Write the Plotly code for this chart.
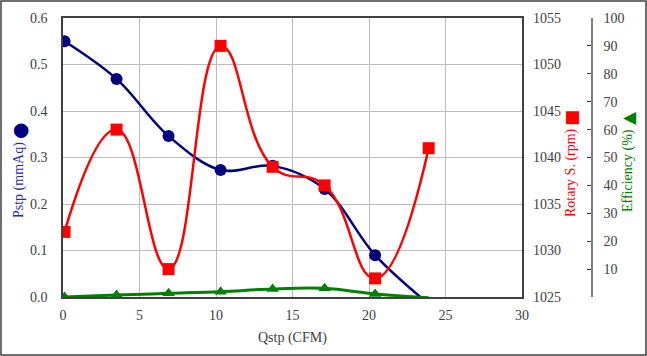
import plotly.graph_objects as go

# ---- data ----
qstp = [0.1, 3.5, 6.9, 10.3, 13.7, 17.1, 20.4, 23.9]
pstp = [0.55, 0.469, 0.346, 0.273, 0.282, 0.232, 0.090, -0.015]
rpm = [1032, 1043, 1028, 1052, 1039, 1037, 1027, 1041]
eff = [0.0, 0.7, 1.3, 1.9, 2.9, 3.1, 1.1, -0.3]

x_ticks = [0, 5, 10, 15, 20, 25, 30]
y1_ticks = [0.0, 0.1, 0.2, 0.3, 0.4, 0.5, 0.6]
y2_ticks = [1025, 1030, 1035, 1040, 1045, 1050, 1055]
y3_ticks = [0, 10, 20, 30, 40, 50, 60, 70, 80, 90, 100]
y3_text = [""] + [str(v) for v in y3_ticks[1:]]

W, H = 647, 356
L, R, T, B = 63, 40, 18, 59
PW = W - L - R
PH = H - T - B
xdom_end = 459 / PW

FONT = "Liberation Serif, Times New Roman, serif"
SYMFONT = "DejaVu Sans"
TICKC = "#404040"
BLUE = "#000080"
RED = "#FF0000"
GREEN = "#008000"

def px(xp):
    return (xp - L) / PW

def py(yp):
    return (H - B - yp) / PH

n = len(qstp)
green_op = [1] * (n - 1) + [0]

fig = go.Figure()

fig.add_trace(go.Scatter(
    x=qstp, y=pstp, mode="lines+markers", name="Pstp",
    line=dict(color=BLUE, width=2.5, shape="spline", smoothing=1.0),
    marker=dict(symbol="circle", size=12, color=BLUE),
    xaxis="x", yaxis="y"))

fig.add_trace(go.Scatter(
    x=qstp, y=eff, mode="lines+markers", name="Efficiency",
    line=dict(color=GREEN, width=3, shape="spline", smoothing=1.0),
    marker=dict(symbol="triangle-up", size=11, color=GREEN, opacity=green_op),
    xaxis="x", yaxis="y3"))

fig.add_trace(go.Scatter(
    x=qstp, y=rpm, mode="lines+markers", name="Rotary S.",
    line=dict(color=RED, width=2.5, shape="spline", smoothing=1.3),
    marker=dict(symbol="square", size=12, color=RED),
    xaxis="x", yaxis="y2"))

tf = dict(family=FONT, size=14, color=TICKC)

fig.update_layout(
    template="none",
    width=W, height=H,
    margin=dict(l=L, r=R, t=T, b=B, pad=0),
    paper_bgcolor="white", plot_bgcolor="white",
    showlegend=False,
    font=dict(family=FONT, size=14, color=TICKC),
    xaxis=dict(
        domain=[0, xdom_end], range=[0, 30], tickvals=x_ticks,
        showgrid=True, gridcolor="#BDBDBD", gridwidth=1,
        showline=True, linecolor=TICKC, linewidth=1.5, mirror=True,
        zeroline=False, ticks="", ticklabelstandoff=4, tickfont=tf),
    yaxis=dict(
        range=[0, 0.6], tickvals=y1_ticks, tickformat=".1f",
        showgrid=True, gridcolor="#BDBDBD", gridwidth=1,
        showline=True, linecolor=TICKC, linewidth=1.5, mirror=True,
        zeroline=False, ticks="", ticklabelstandoff=11, tickfont=tf),
    yaxis2=dict(
        range=[1025, 1055], tickvals=y2_ticks, overlaying="y", side="right",
        anchor="x", showgrid=False, zeroline=False, showline=False,
        ticks="", ticklabelstandoff=10, tickfont=tf),
    yaxis3=dict(
        range=[0, 100], tickvals=y3_ticks, ticktext=y3_text,
        overlaying="y", side="right", anchor="free", position=px(592),
        showgrid=False, zeroline=False, showline=True, linecolor="#808080",
        linewidth=1.5, ticks="inside", ticklen=4, tickcolor="#404040",
        ticklabelstandoff=8, tickfont=tf),
)

ann = [
    dict(x=px(292.5), y=py(338), text="Qstp (CFM)", textangle=0,
         font=dict(family=FONT, size=14, color=TICKC)),
    dict(x=px(19), y=py(180), text="Pstp (mmAq)", textangle=-90,
         font=dict(family=FONT, size=14, color="#2B2B9A")),
    dict(x=px(19), y=py(131), text="●", textangle=-90,
         font=dict(family=SYMFONT, size=19, color=BLUE)),
    dict(x=px(571), y=py(173), text="Rotary S. (rpm)", textangle=-90,
         font=dict(family=FONT, size=14, color=RED)),
    dict(x=px(571), y=py(118), text="■", textangle=-90,
         font=dict(family=SYMFONT, size=17, color=RED)),
    dict(x=px(628), y=py(171), text="Efficiency (%)", textangle=-90,
         font=dict(family=FONT, size=14, color=GREEN)),
    dict(x=px(628), y=py(118), text="▲", textangle=-90,
         font=dict(family=SYMFONT, size=17, color=GREEN)),
]
for a in ann:
    a.update(xref="paper", yref="paper", showarrow=False,
             xanchor="center", yanchor="middle")
fig.update_layout(annotations=ann)

fig.add_shape(type="rect", xref="paper", yref="paper",
              x0=px(1), x1=px(W - 1), y0=py(H - 1), y1=py(1),
              line=dict(color="#404040", width=1.5), fillcolor="rgba(0,0,0,0)",
              layer="below")

fig.write_html("out.html",
               config={"displayModeBar": False},
               post_script="document.body.style.margin='0';"
                           "document.body.style.overflow='hidden';")
